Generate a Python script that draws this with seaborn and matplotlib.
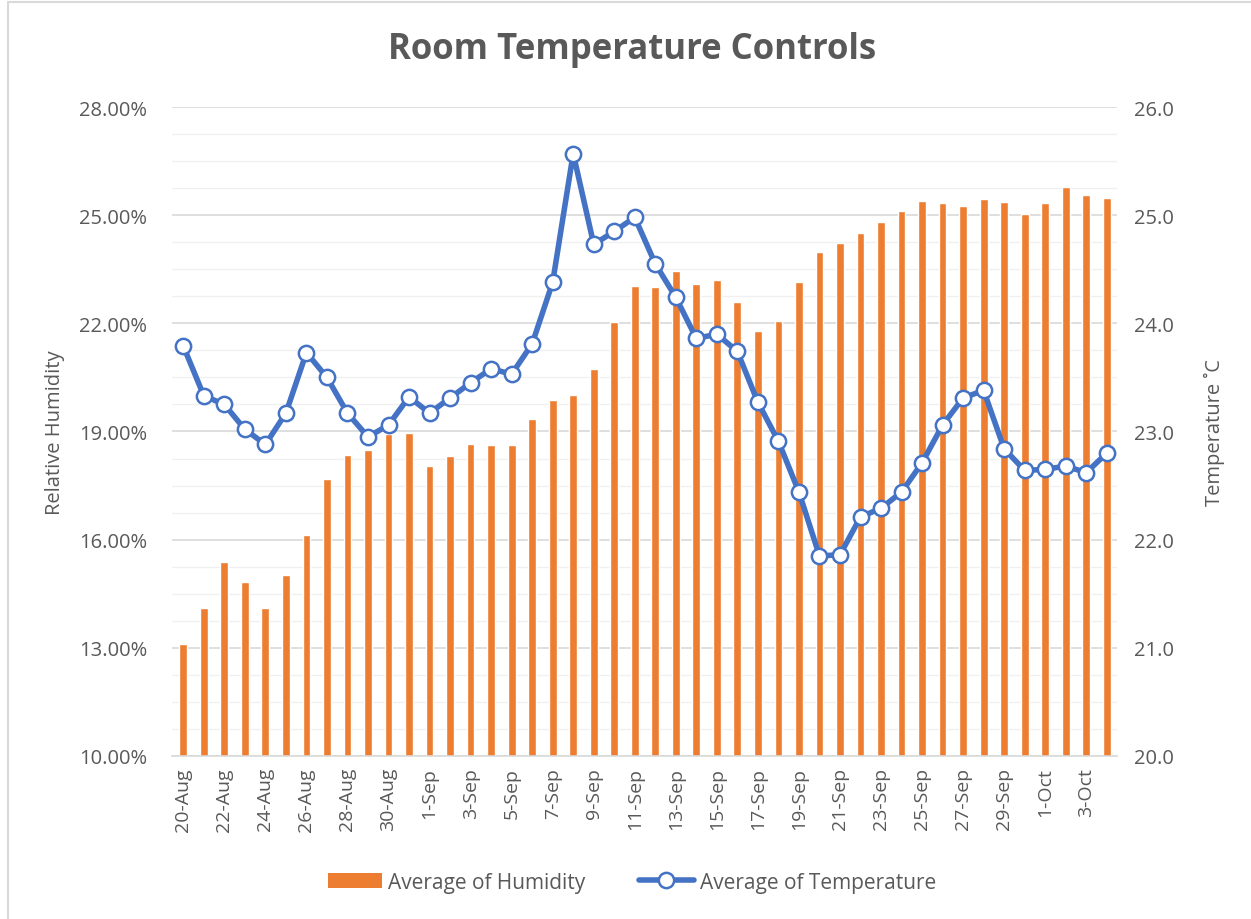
import pandas as pd
import numpy as np
import matplotlib
matplotlib.use('Agg')
import matplotlib.pyplot as plt
import seaborn as sns
from matplotlib.lines import Line2D
from matplotlib.patches import Patch

# Даты (категории оси X)
dates = pd.date_range('2019-08-20', '2019-10-04', freq='D')
date_labels = [f'{d.day}-{d.strftime("%b")}' for d in dates]

# Средняя влажность, %
humidity = [13.11, 14.10, 15.39, 14.83, 14.10, 15.02, 16.13, 17.68, 18.35, 18.50,
            18.93, 18.95, 18.05, 18.31, 18.65, 18.62, 18.62, 19.34, 19.86, 20.01,
            20.74, 22.04, 23.04, 23.00, 23.45, 23.08, 23.19, 22.59, 21.79, 22.06,
            23.16, 23.98, 24.23, 24.50, 24.82, 25.11, 25.38, 25.33, 25.26, 25.44,
            25.37, 25.04, 25.33, 25.77, 25.55, 25.48]

# Средняя температура, °C
temperature = [23.79, 23.33, 23.25, 23.02, 22.88, 23.17, 23.73, 23.50, 23.17, 22.95,
               23.06, 23.32, 23.17, 23.31, 23.45, 23.58, 23.53, 23.81, 24.38, 25.57,
               24.73, 24.85, 24.98, 24.55, 24.24, 23.86, 23.90, 23.74, 23.27, 22.91,
               22.44, 21.85, 21.86, 22.21, 22.29, 22.44, 22.71, 23.06, 23.31, 23.38,
               22.84, 22.64, 22.65, 22.68, 22.62, 22.80]

df = pd.DataFrame({'date': date_labels, 'humidity': humidity,
                   'temperature': temperature, 'idx': np.arange(len(date_labels))})

sns.set_theme(style='white')
plt.rcParams['font.family'] = ['Open Sans', 'DejaVu Sans']

text_color = '#595959'
bar_color = '#ED7D31'
line_color = '#4472C4'

fig = plt.figure(figsize=(12.51, 9.2), dpi=100)
ax = fig.add_axes([0.1375, 0.1772, 0.7554, 0.7054])

# Столбцы влажности
sns.barplot(data=df, x='date', y='humidity', color=bar_color, width=0.38,
            saturation=1, ax=ax, zorder=2)

ax.set_ylim(10, 28)
ax.set_xlim(-0.55, len(date_labels) - 0.5)
ax.set_yticks(np.arange(10, 28.01, 3))
ax.set_yticklabels([f'{v:.2f}%' for v in np.arange(10, 28.01, 3)])
ax.set_yticks(np.arange(10, 28.01, 0.75), minor=True)
ax.grid(axis='y', which='major', color='#D9D9D9', linewidth=1.2, zorder=0)
ax.grid(axis='y', which='minor', color='#F0F0F0', linewidth=1.0, zorder=0)
ax.set_axisbelow(True)

ax.set_xticks(np.arange(0, len(date_labels), 2))
ax.set_xticklabels(date_labels[::2], rotation=90)
ax.tick_params(axis='both', which='both', length=0, labelsize=14.5, labelcolor=text_color)
ax.tick_params(axis='x', pad=8, labelsize=14)
ax.tick_params(axis='y', pad=18)
for s in ['top', 'right', 'left']:
    ax.spines[s].set_visible(False)
ax.spines['bottom'].set_color('#D9D9D9')
ax.spines['bottom'].set_linewidth(1.2)

ax.set_xlabel('')
ax.set_ylabel('Relative Humidity', fontsize=14.5, color=text_color, labelpad=10)

# Линия температуры
ax2 = ax.twinx()
sns.lineplot(data=df, x='idx', y='temperature', color=line_color, linewidth=4,
             marker='o', markersize=11, markerfacecolor='white',
             markeredgecolor=line_color, markeredgewidth=1.8, ax=ax2, zorder=3)
ax2.set_ylim(20, 26)
ax2.set_yticks(np.arange(20, 26.01, 1))
ax2.set_yticklabels([f'{v:.1f}' for v in np.arange(20, 26.01, 1)])
ax2.tick_params(axis='y', length=0, labelsize=14.5, labelcolor=text_color, pad=12)
ax2.set_xlim(-0.55, len(date_labels) - 0.5)
for s in ax2.spines.values():
    s.set_visible(False)
ax2.set_xlabel('')
ax2.set_ylabel('Temperature ˚C', fontsize=14.5, color=text_color, labelpad=22)
ax2.grid(False)

fig.suptitle('Room Temperature Controls', x=0.505, y=0.965, fontsize=25,
             fontweight='bold', color=text_color)

handles = [Patch(facecolor=bar_color, edgecolor='none'),
           Line2D([0], [0], color=line_color, linewidth=4, marker='o', markersize=11,
                  markerfacecolor='white', markeredgecolor=line_color, markeredgewidth=1.8)]
fig.legend(handles, ['Average of Humidity', 'Average of Temperature'],
           loc='center', bbox_to_anchor=(0.505, 0.04), ncol=2, frameon=False,
           fontsize=15, labelcolor=text_color, handlelength=2.6, columnspacing=2.6,
           handletextpad=0.3)

# Рамка диаграммы (верх и левый край)
fig.add_artist(Line2D([8 / 1251, 8 / 1251], [0, 1 - 3 / 920], transform=fig.transFigure,
                      color='#D9D9D9', linewidth=1.5))
fig.add_artist(Line2D([8 / 1251, 1], [1 - 3 / 920, 1 - 3 / 920], transform=fig.transFigure,
                      color='#D9D9D9', linewidth=1.5))

fig.savefig('out.png', dpi=100)
